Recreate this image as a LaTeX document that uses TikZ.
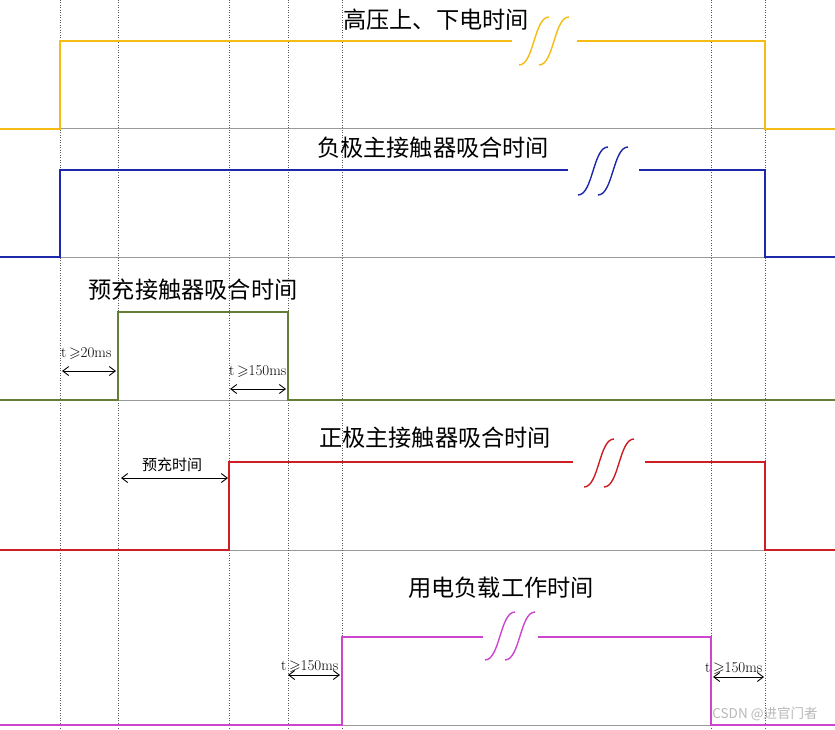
\documentclass[tikz,border=0pt]{standalone}
\usepackage{amssymb}
\usepackage{fontspec}
\newfontfamily\cjk{Noto Sans CJK SC}
\usetikzlibrary{arrows.meta, positioning}

% colours of the five signals
\definecolor{hvcol}{RGB}{245,188,20}
\definecolor{negcol}{RGB}{30,40,170}
\definecolor{precol}{RGB}{100,125,55}
\definecolor{poscol}{RGB}{205,30,35}
\definecolor{loadcol}{RGB}{205,70,205}

% break mark on a long high level: colour, x, y
\newcommand{\sigbreak}[3]{%
  \foreach \dx in {-10,10} {
    \draw[#1, line width=1.4pt]
      ({#2+\dx-15},{#3+24}) .. controls +(15,0) and +(-15,0) .. ++(30,-48);
  }%
}

\begin{document}
\begin{tikzpicture}[
    x=1pt, y=-1pt,
    >={Straight Barb[length=6pt,width=9pt]},
    sig/.style={line width=2.9pt},
    baseline/.style={gray!80, line width=1pt},
    grid/.style={gray!70!black, line width=0.5pt, dotted},
    title/.style={font=\cjk\fontsize{23.2}{26}\selectfont, inner sep=0pt},
    dimlbl/.style={font=\fontsize{15}{17}\selectfont, inner sep=0pt},
    dim/.style={<->, line width=0.9pt},
]

\fill[white] (0,0) rectangle (835,730);
\useasboundingbox (0,0) rectangle (835,730);

% ---- base lines of the five rows ----
\foreach \y in {129,257,400,550,725} {
  \draw[baseline] (0,\y) -- (835,\y);
}

% ---- dotted time marks ----
\foreach \x in {60,118,229,288,342,711,765} {
  \draw[grid] (\x,0) -- (\x,730);
}

% ---- HV power on / off ----
\draw[sig, hvcol] (0,129) -- (60,129) -- (60,41) -- (512,41);
\draw[sig, hvcol] (577,41) -- (765,41) -- (765,129) -- (835,129);
\sigbreak{hvcol}{544}{41}
\node[title] (hvtitle) at (436,20) {高压上、下电时间};

% ---- negative main contactor ----
\draw[sig, negcol] (0,257) -- (60,257) -- (60,170) -- (568,170);
\draw[sig, negcol] (639,170) -- (765,170) -- (765,257) -- (835,257);
\sigbreak{negcol}{603}{171}
\node[title] (negtitle) at (433,148) {负极主接触器吸合时间};

% ---- precharge contactor ----
\draw[sig, precol] (0,400) -- (118,400) -- (118,312) -- (288,312)
  -- (288,400) -- (835,400);
\node[title] (pretitle) at (193,290) {预充接触器吸合时间};

\coordinate (pa) at (62,371);
\coordinate (pb) at (116,371);
\draw[dim] (pa) -- (pb);
\node[dimlbl, anchor=south west] (plbl) at (61,360) {t\,$\geqslant$20ms};

\coordinate (qa) at (230,389);
\coordinate (qb) at (286,389);
\draw[dim] (qa) -- (qb);
\node[dimlbl, anchor=south west] (qlbl) at (229,378) {t\,$\geqslant$150ms};

% ---- positive main contactor ----
\draw[sig, poscol] (0,550) -- (229,550) -- (229,462) -- (573,462);
\draw[sig, poscol] (645,462) -- (765,462) -- (765,550) -- (835,550);
\sigbreak{poscol}{609}{463}
\node[title] (postitle) at (435,438) {正极主接触器吸合时间};

\coordinate (ra) at (121,478);
\coordinate (rb) at (228,478);
\draw[dim] (ra) -- (rb);
\node[font=\cjk\fontsize{15}{17}\selectfont, inner sep=0pt] (rlbl)
  at (172,465) {预充时间};

% ---- load working time ----
\draw[sig, loadcol] (0,725) -- (342,725) -- (342,637) -- (483,637);
\draw[sig, loadcol] (538,637) -- (711,637) -- (711,725) -- (835,725);
\sigbreak{loadcol}{510}{636}
\node[title] (loadtitle) at (501,588) {用电负载工作时间};

\coordinate (sa) at (288,675);
\coordinate (sb) at (340,675);
\draw[dim] (sa) -- (sb);
\node[dimlbl, anchor=south west] (slbl) at (281,673) {t\,$\geqslant$150ms};

\coordinate (ua) at (713,677);
\coordinate (ub) at (764,677);
\draw[dim] (ua) -- (ub);
\node[dimlbl, anchor=south west] (ulbl) at (705,675) {t\,$\geqslant$150ms};

% watermark
\node[font=\cjk\fontsize{13.5}{15}\selectfont, gray!55, inner sep=0pt]
  (mark) at (765,714) {CSDN @进官门者};

\end{tikzpicture}
\end{document}
